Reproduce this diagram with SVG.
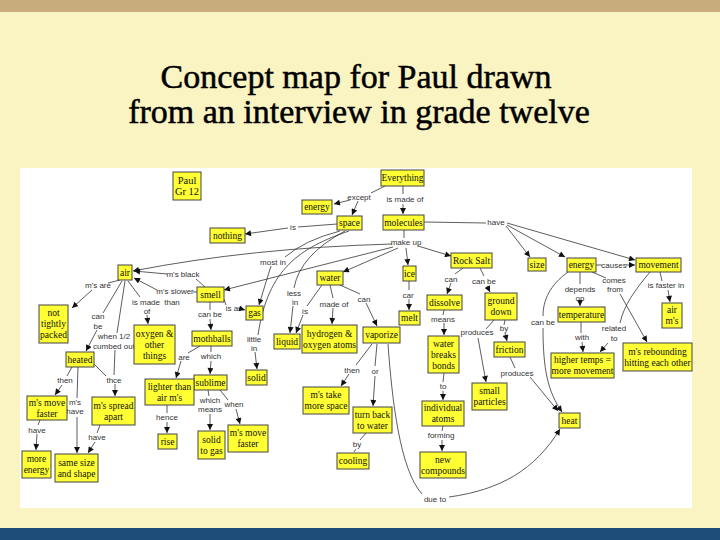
<svg xmlns="http://www.w3.org/2000/svg" width="720" height="540" viewBox="0 0 720 540">
<defs>
<style>
.n rect{fill:#FFFF33;stroke:#444;stroke-width:1}
.n text{font-family:'Liberation Serif','DejaVu Serif','Times New Roman',serif;font-size:9.5px;fill:#111;text-anchor:middle}
.l{font-family:'Liberation Sans','DejaVu Sans',Arial,sans-serif;font-size:8px;fill:#333;text-anchor:middle}
.c path{fill:none;stroke:#333;stroke-width:0.8}
.c path.a{marker-end:url(#ah)}
.title{font-family:'Liberation Serif','DejaVu Serif','Times New Roman',serif;font-size:34px;fill:#000;stroke:#000;stroke-width:0.5;text-anchor:middle}
</style>
<marker id="ah" viewBox="0 0 10 10" refX="10" refY="5" markerWidth="7" markerHeight="6" markerUnits="userSpaceOnUse" orient="auto"><path d="M0,0 L10,5 L0,10 z" fill="#111"/></marker>
</defs>
<rect x="0" y="0" width="720" height="540" fill="#FAF3C2"/>
<rect x="0" y="0" width="720" height="12" fill="#C8AC7C"/>
<rect x="0" y="528" width="720" height="12" fill="#1F4D7A"/>
<text class="title" x="356" y="88">Concept map for Paul drawn</text>
<text class="title" x="359" y="123">from an interview in grade twelve</text>
<rect x="20" y="168" width="672" height="340" fill="#FFFFFF"/>

<g id="connectors" class="c">
<path d="M385,186 L371,193"/>
<path class="a" d="M350,200 L334,204"/>
<path class="a" d="M358,201 L352,215"/>
<path d="M403,186 L403,194"/>
<path class="a" d="M403,204 L403,214"/>
<path d="M337,224 L298,227"/>
<path class="a" d="M288,228 L245,234"/>
<path d="M424,222 L486,223"/>
<path class="a" d="M506,226 L530,257"/>
<path class="a" d="M507,225 L565,257"/>
<path class="a" d="M507,223 L635,260"/>
<path d="M404,230 L404,238"/>
<path class="a" d="M392,244 Q250,248 133,271"/>
<path class="a" d="M393,247 L224,290"/>
<path class="a" d="M398,248 L343,272"/>
<path class="a" d="M406,248 L408,265"/>
<path class="a" d="M418,246 L451,256"/>
<path d="M340,231 Q305,240 285,257"/>
<path class="a" d="M271,266 Q265,285 259,305"/>
<path d="M345,231 Q300,255 294,288"/>
<path class="a" d="M293,306 L290,333"/>
<path d="M349,231 C300,248 268,268 258,335"/>
<path class="a" d="M255,352 L257,369"/>
<path d="M322,285 L307,306"/>
<path class="a" d="M303,315 L296,333"/>
<path d="M330,285 L333,298"/>
<path class="a" d="M333,308 L332,324"/>
<path d="M340,285 L360,294"/>
<path class="a" d="M366,303 L377,326"/>
<path d="M409,281 L409,290"/>
<path class="a" d="M409,299 L409,310"/>
<path d="M463,268 L455,274"/>
<path class="a" d="M451,283 L447,294"/>
<path d="M480,268 L484,276"/>
<path class="a" d="M487,286 L490,292"/>
<path d="M444,310 L443,315"/>
<path class="a" d="M444,323 L444,335"/>
<path d="M494,320 L486,329"/>
<path class="a" d="M478,338 L486,382"/>
<path d="M505,320 L504,325"/>
<path class="a" d="M505,333 L507,341"/>
<path d="M510,357 L515,368"/>
<path class="a" d="M530,377 L558,411"/>
<path d="M444,373 L443,382"/>
<path class="a" d="M443,391 L443,400"/>
<path d="M443,426 L442,431"/>
<path class="a" d="M442,440 L442,451"/>
<path d="M372,344 L356,365"/>
<path class="a" d="M349,374 L341,386"/>
<path d="M377,344 L375,366"/>
<path class="a" d="M375,376 L373,406"/>
<path d="M366,433 L360,440"/>
<path d="M356,449 L354,452"/>
<path d="M388,344 C392,400 400,470 422,494"/>
<path class="a" d="M449,497 C500,490 535,470 560,429"/>
<path d="M596,265 L602,265"/>
<path class="a" d="M626,265 L635,265"/>
<path d="M660,272 L662,281"/>
<path class="a" d="M668,290 L670,302"/>
<path d="M580,272 L580,284"/>
<path class="a" d="M580,302 L580,306"/>
<path d="M592,272 L606,278"/>
<path class="a" d="M620,294 L647,342"/>
<path d="M650,272 C635,290 624,305 620,323"/>
<path class="a" d="M608,343 L600,352"/>
<path d="M581,322 L581,333"/>
<path class="a" d="M582,342 L583,352"/>
<path d="M568,272 C550,285 543,300 543,316"/>
<path class="a" d="M543,328 C543,370 548,392 562,412"/>
<path d="M120,280 L108,283"/>
<path class="a" d="M92,290 L72,308"/>
<path d="M122,281 L103,313"/>
<path class="a" d="M97,330 L86,351"/>
<path d="M125,281 L117,333"/>
<path d="M115,350 L114,375"/>
<path d="M94,364 L106,376"/>
<path class="a" d="M115,384 L115,396"/>
<path d="M128,281 L140,297"/>
<path class="a" d="M147,315 L148,324"/>
<path d="M197,292 L193,292"/>
<path class="a" d="M157,290 L134,278"/>
<path d="M205,287 L196,279"/>
<path class="a" d="M167,274 L134,271"/>
<path d="M72,367 L67,376"/>
<path class="a" d="M62,385 L55,395"/>
<path d="M78,367 L77,398"/>
<path class="a" d="M77,417 L77,453"/>
<path d="M40,420 L38,425"/>
<path class="a" d="M37,434 L36,450"/>
<path d="M100,425 L97,433"/>
<path class="a" d="M95,442 L88,453"/>
<path d="M211,346 L211,352"/>
<path class="a" d="M211,361 L210,374"/>
<path d="M200,346 L188,353"/>
<path class="a" d="M181,361 L176,378"/>
<path d="M167,405 L167,413"/>
<path class="a" d="M167,422 L167,433"/>
<path d="M208,390 L209,396"/>
<path class="a" d="M210,414 L210,430"/>
<path d="M220,390 L228,400"/>
<path class="a" d="M236,409 L240,424"/>
<path d="M210,302 L210,310"/>
<path class="a" d="M210,319 L211,330"/>
<path d="M224,299 L226,305"/>
<path class="a" d="M238,308 L245,310"/>
</g>

<g id="link-labels">
<text class="l" x="359" y="200">except</text>
<text class="l" x="405" y="202">is made of</text>
<text class="l" x="293" y="230">is</text>
<text class="l" x="496" y="225">have</text>
<text class="l" x="406" y="245">make up</text>
<text class="l" x="273" y="265">most in</text>
<text class="l" x="183" y="277">m's black</text>
<text class="l" x="98" y="288">m's are</text>
<text class="l" x="175" y="294">m's slower</text>
<text class="l" x="172" y="305">than</text>
<text class="l" x="146" y="305">is made</text>
<text class="l" x="147" y="314">of</text>
<text class="l" x="98" y="319">can</text>
<text class="l" x="98" y="329">be</text>
<text class="l" x="114" y="339">when 1/2</text>
<text class="l" x="114" y="349">cumbed out</text>
<text class="l" x="294" y="296">less</text>
<text class="l" x="295" y="305">in</text>
<text class="l" x="305" y="314">is</text>
<text class="l" x="334" y="307">made of</text>
<text class="l" x="364" y="302">can</text>
<text class="l" x="408" y="298">car</text>
<text class="l" x="451" y="282">can</text>
<text class="l" x="484" y="284">can be</text>
<text class="l" x="614" y="268">causes</text>
<text class="l" x="614" y="283">comes</text>
<text class="l" x="615" y="292">from</text>
<text class="l" x="666" y="288">is faster in</text>
<text class="l" x="580" y="292">depends</text>
<text class="l" x="580" y="301">on</text>
<text class="l" x="232" y="311">is a</text>
<text class="l" x="210" y="317">can be</text>
<text class="l" x="443" y="322">means</text>
<text class="l" x="477" y="335">produces</text>
<text class="l" x="504" y="331">by</text>
<text class="l" x="543" y="325">can be</text>
<text class="l" x="582" y="340">with</text>
<text class="l" x="614" y="331">related</text>
<text class="l" x="614" y="341">to</text>
<text class="l" x="184" y="360">are</text>
<text class="l" x="211" y="359">which</text>
<text class="l" x="254" y="342">little</text>
<text class="l" x="254" y="351">in</text>
<text class="l" x="352" y="373">then</text>
<text class="l" x="375" y="374">or</text>
<text class="l" x="65" y="383">then</text>
<text class="l" x="114" y="383">thce</text>
<text class="l" x="517" y="376">produces</text>
<text class="l" x="75" y="405">m's</text>
<text class="l" x="75" y="414">have</text>
<text class="l" x="167" y="420">hence</text>
<text class="l" x="210" y="403">which</text>
<text class="l" x="210" y="412">means</text>
<text class="l" x="234" y="407">when</text>
<text class="l" x="443" y="389">to</text>
<text class="l" x="37" y="433">have</text>
<text class="l" x="97" y="440">have</text>
<text class="l" x="441" y="438">forming</text>
<text class="l" x="357" y="447">by</text>
<text class="l" x="435" y="502">due to</text>
</g>

<g id="n-paul" class="n"><rect x="173" y="172" width="28" height="28"/><text x="187" y="184" style="font-size:10.5px"><tspan x="187">Paul</tspan><tspan x="187" dy="11">Gr 12</tspan></text></g>
<g id="n-everything" class="n"><rect x="381" y="170" width="43" height="16"/><text x="402.5" y="181.3">Everything</text></g>
<g id="n-energy1" class="n"><rect x="302" y="200" width="30" height="14"/><text x="317" y="210.3">energy</text></g>
<g id="n-space" class="n"><rect x="337" y="216" width="25" height="14"/><text x="349.5" y="226.3">space</text></g>
<g id="n-molecules" class="n"><rect x="383" y="215" width="41" height="15"/><text x="403.5" y="225.8">molecules</text></g>
<g id="n-nothing" class="n"><rect x="210" y="228" width="35" height="15"/><text x="227.5" y="238.8">nothing</text></g>
<g id="n-rocksalt" class="n"><rect x="451" y="253" width="41" height="15"/><text x="471.5" y="263.8">Rock Salt</text></g>
<g id="n-ice" class="n"><rect x="403" y="266" width="13" height="15"/><text x="409.5" y="276.8">ice</text></g>
<g id="n-size" class="n"><rect x="528" y="258" width="18" height="13"/><text x="537" y="267.8">size</text></g>
<g id="n-energy2" class="n"><rect x="567" y="258" width="29" height="14"/><text x="581.5" y="268.3">energy</text></g>
<g id="n-movement" class="n"><rect x="636" y="258" width="45" height="14"/><text x="658.5" y="268.3">movement</text></g>
<g id="n-air" class="n"><rect x="118" y="265" width="14" height="15"/><text x="125" y="275.8">air</text></g>
<g id="n-water" class="n"><rect x="317" y="271" width="26" height="14"/><text x="330" y="281.3">water</text></g>
<g id="n-smell" class="n"><rect x="197" y="287" width="27" height="15"/><text x="210.5" y="297.8">smell</text></g>
<g id="n-gas" class="n"><rect x="246" y="306" width="17" height="14"/><text x="254.5" y="316.3">gas</text></g>
<g id="n-dissolve" class="n"><rect x="427" y="295" width="35" height="15"/><text x="444.5" y="305.8">dissolve</text></g>
<g id="n-ground" class="n"><rect x="485" y="293" width="32" height="27"/><text x="501" y="304.3"><tspan x="501">ground</tspan><tspan x="501" dy="11">down</tspan></text></g>
<g id="n-melt" class="n"><rect x="399" y="311" width="21" height="14"/><text x="409.5" y="321.3">melt</text></g>
<g id="n-temperature" class="n"><rect x="558" y="307" width="47" height="15"/><text x="581.5" y="317.8">temperature</text></g>
<g id="n-airms" class="n"><rect x="662" y="303" width="20" height="25"/><text x="672" y="313.3"><tspan x="672">air</tspan><tspan x="672" dy="11">m's</tspan></text></g>
<g id="n-nottightly" class="n"><rect x="39" y="305" width="29" height="38"/><text x="53.5" y="316.3"><tspan x="53.5">not</tspan><tspan x="53.5" dy="11">tightly</tspan><tspan x="53.5" dy="11">packed</tspan></text></g>
<g id="n-oxygen" class="n"><rect x="134" y="325" width="41" height="39"/><text x="154.5" y="336.8"><tspan x="154.5">oxygen &amp;</tspan><tspan x="154.5" dy="11">other</tspan><tspan x="154.5" dy="11">things</tspan></text></g>
<g id="n-mothballs" class="n"><rect x="192" y="331" width="40" height="15"/><text x="212" y="341.8">mothballs</text></g>
<g id="n-liquid" class="n"><rect x="274" y="334" width="26" height="15"/><text x="287" y="344.8">liquid</text></g>
<g id="n-hydrogen" class="n"><rect x="302" y="325" width="55" height="28"/><text x="329.5" y="336.8"><tspan x="329.5">hydrogen &amp;</tspan><tspan x="329.5" dy="11">oxygen atoms</tspan></text></g>
<g id="n-vaporize" class="n"><rect x="363" y="327" width="37" height="16"/><text x="381.5" y="338.3">vaporize</text></g>
<g id="n-breaks" class="n"><rect x="428" y="336" width="31" height="37"/><text x="443.5" y="346.8"><tspan x="443.5">water</tspan><tspan x="443.5" dy="11">breaks</tspan><tspan x="443.5" dy="11">bonds</tspan></text></g>
<g id="n-friction" class="n"><rect x="494" y="342" width="31" height="15"/><text x="509.5" y="352.8">friction</text></g>
<g id="n-heated" class="n"><rect x="66" y="352" width="28" height="15"/><text x="80" y="362.8">heated</text></g>
<g id="n-highertemps" class="n"><rect x="551" y="353" width="63" height="25"/><text x="582.5" y="363.3"><tspan x="582.5">higher temps =</tspan><tspan x="582.5" dy="11">more movement</tspan></text></g>
<g id="n-rebounding" class="n"><rect x="623" y="343" width="69" height="28"/><text x="657.5" y="354.8"><tspan x="657.5">m's rebounding</tspan><tspan x="657.5" dy="11">hitting each other</tspan></text></g>
<g id="n-solid" class="n"><rect x="246" y="370" width="21" height="15"/><text x="256.5" y="380.8">solid</text></g>
<g id="n-sublime" class="n"><rect x="194" y="375" width="33" height="15"/><text x="210.5" y="385.8">sublime</text></g>
<g id="n-lighter" class="n"><rect x="145" y="379" width="49" height="26"/><text x="169.5" y="389.8"><tspan x="169.5">lighter than</tspan><tspan x="169.5" dy="11">air m's</tspan></text></g>
<g id="n-morespace" class="n"><rect x="303" y="387" width="46" height="27"/><text x="326" y="398.3"><tspan x="326">m's take</tspan><tspan x="326" dy="11">more space</tspan></text></g>
<g id="n-particles" class="n"><rect x="472" y="383" width="35" height="27"/><text x="489.5" y="394.3"><tspan x="489.5">small</tspan><tspan x="489.5" dy="11">particles</tspan></text></g>
<g id="n-movefaster1" class="n"><rect x="27" y="396" width="40" height="24"/><text x="47" y="405.8"><tspan x="47">m's move</tspan><tspan x="47" dy="11">faster</tspan></text></g>
<g id="n-spread" class="n"><rect x="92" y="397" width="43" height="28"/><text x="113.5" y="408.8"><tspan x="113.5">m's spread</tspan><tspan x="113.5" dy="11">apart</tspan></text></g>
<g id="n-turnback" class="n"><rect x="353" y="407" width="39" height="26"/><text x="372.5" y="417.8"><tspan x="372.5">turn back</tspan><tspan x="372.5" dy="11">to water</tspan></text></g>
<g id="n-atoms" class="n"><rect x="422" y="401" width="42" height="25"/><text x="443" y="411.3"><tspan x="443">individual</tspan><tspan x="443" dy="11">atoms</tspan></text></g>
<g id="n-heat" class="n"><rect x="559" y="413" width="21" height="15"/><text x="569.5" y="423.8">heat</text></g>
<g id="n-rise" class="n"><rect x="158" y="434" width="19" height="15"/><text x="167.5" y="444.8">rise</text></g>
<g id="n-solidgas" class="n"><rect x="198" y="431" width="27" height="28"/><text x="211.5" y="442.8"><tspan x="211.5">solid</tspan><tspan x="211.5" dy="11">to gas</tspan></text></g>
<g id="n-movefaster2" class="n"><rect x="228" y="425" width="40" height="27"/><text x="248" y="436.3"><tspan x="248">m's move</tspan><tspan x="248" dy="11">faster</tspan></text></g>
<g id="n-moreenergy" class="n"><rect x="22" y="451" width="29" height="27"/><text x="36.5" y="462.3"><tspan x="36.5">more</tspan><tspan x="36.5" dy="11">energy</tspan></text></g>
<g id="n-samesize" class="n"><rect x="55" y="454" width="43" height="28"/><text x="76.5" y="465.8"><tspan x="76.5">same size</tspan><tspan x="76.5" dy="11">and shape</tspan></text></g>
<g id="n-cooling" class="n"><rect x="337" y="453" width="32" height="16"/><text x="353" y="464.3">cooling</text></g>
<g id="n-compounds" class="n"><rect x="420" y="452" width="46" height="26"/><text x="443" y="462.8"><tspan x="443">new</tspan><tspan x="443" dy="11">compounds</tspan></text></g>
</svg>
